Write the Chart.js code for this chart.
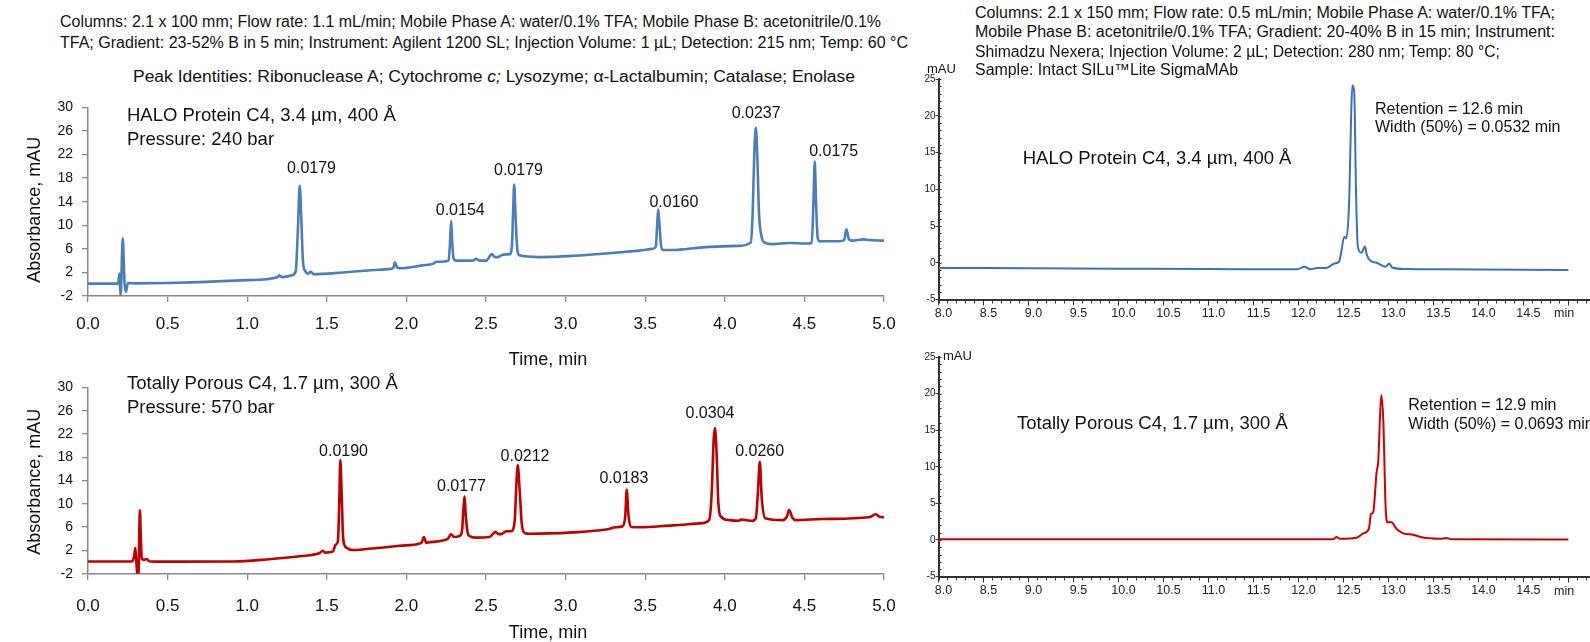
<!DOCTYPE html>
<html lang="en">
<head>
    <meta charset="UTF-8">
    <title>HALO Protein C4 vs Totally Porous C4</title>
    <script src="https://cdn.jsdelivr.net/npm/chart.js"></script>
    <style>
        body {
            margin: 0;
            width: 1590px;
            height: 642px;
            overflow: hidden;
            position: relative;
            background: #fff;
            color: #111;
            font-family: 'Liberation Sans', Arial, sans-serif;
        }
        canvas, .t {
            position: absolute;
        }
        .t {
            white-space: nowrap;
            line-height: 1.2;
            transform-origin: left center;
        }
        .hdr { font-size: 16px; }
        .ttl { font-size: 18.5px; }
        .ann { font-size: 16px; }
        .axt { font-size: 18px; width: 200px; text-align: center; }
        .unit { font-size: 12.5px; color: #222; }
    </style>
</head>
<body>
    <canvas id="c1" width="900" height="280" style="left:0;top:90px"></canvas>
    <canvas id="c2" width="900" height="272" style="left:0;top:370px"></canvas>
    <canvas id="c3" width="690" height="280" style="left:900px;top:60px"></canvas>
    <canvas id="c4" width="690" height="302" style="left:900px;top:340px"></canvas>

    <!-- left panel text -->
    <div class="t hdr" data-w="821" style="left:60px;top:11.7px">Columns: 2.1 x 100 mm; Flow rate: 1.1 mL/min; Mobile Phase A: water/0.1% TFA; Mobile Phase B: acetonitrile/0.1%</div>
    <div class="t hdr" data-w="848" style="left:60px;top:33px">TFA; Gradient: 23-52% B in 5 min; Instrument: Agilent 1200 SL; Injection Volume: 1 µL; Detection: 215 nm; Temp: 60 °C</div>
    <div class="t hdr" data-w="722" style="left:133px;top:67.4px">Peak Identities: Ribonuclease A; Cytochrome <i>c;</i> Lysozyme; α-Lactalbumin; Catalase; Enolase</div>
    <div class="t ttl" style="left:127px;top:103.9px">HALO Protein C4, 3.4 µm, 400 Å</div>
    <div class="t ttl" style="left:127px;top:127.9px">Pressure: 240 bar</div>
    <div class="t ttl" style="left:127px;top:372.2px">Totally Porous C4, 1.7 µm, 300 Å</div>
    <div class="t ttl" style="left:127px;top:395.6px">Pressure: 570 bar</div>
    <div class="t axt" style="left:448px;top:349px">Time, min</div>
    <div class="t axt" style="left:448px;top:622px">Time, min</div>
    <div class="t axt" style="left:-65px;top:199.2px;transform:rotate(-90deg);transform-origin:center">Absorbance, mAU</div>
    <div class="t axt" style="left:-65px;top:470.9px;transform:rotate(-90deg);transform-origin:center">Absorbance, mAU</div>

    <!-- right panel text -->
    <div class="t hdr" data-w="580" style="left:975px;top:3.4px">Columns: 2.1 x 150 mm; Flow rate: 0.5 mL/min; Mobile Phase A: water/0.1% TFA;</div>
    <div class="t hdr" data-w="580" style="left:975px;top:22.4px">Mobile Phase B: acetonitrile/0.1% TFA; Gradient: 20-40% B in 15 min; Instrument:</div>
    <div class="t hdr" data-w="525" style="left:975px;top:41.9px">Shimadzu Nexera; Injection Volume: 2 µL; Detection: 280 nm; Temp: 80 °C;</div>
    <div class="t hdr" data-w="263" style="left:975px;top:60.4px">Sample: Intact SILu™Lite SigmaMAb</div>
    <div class="t" style="left:927px;top:60.5px;font-size:13px">mAU</div>
    <div class="t" style="left:943px;top:348.2px;font-size:13px">mAU</div>
    <div class="t unit" style="left:1554px;top:305.5px">min</div>
    <div class="t unit" style="left:1554px;top:584.2px">min</div>
    <div class="t ttl" style="left:1022.7px;top:147.2px">HALO Protein C4, 3.4 µm, 400 Å</div>
    <div class="t ttl" style="left:1017px;top:412.2px">Totally Porous C4, 1.7 µm, 300 Å</div>
    <div class="t ann" style="left:1375px;top:98.7px">Retention = 12.6 min</div>
    <div class="t ann" style="left:1375px;top:117.1px">Width (50%) = 0.0532 min</div>
    <div class="t ann" style="left:1408.3px;top:394.7px">Retention = 12.9 min</div>
    <div class="t ann" style="left:1408.3px;top:413.7px">Width (50%) = 0.0693 min</div>

    <script>
        // ---- data ----
        // 5 min protein mix, HALO Protein C4 (blue)
        const haloFastTime = [0, 0.10, 0.19, 0.197, 0.205, 0.218, 0.230, 0.239, 0.250, 0.30, 0.50, 0.70, 1.00, 1.19, 1.20, 1.22, 1.28, 1.305, 1.318, 1.330, 1.340, 1.350, 1.365, 1.38, 1.40, 1.42, 1.60, 1.80, 1.90, 1.918, 1.928, 1.94, 1.96, 2.10, 2.17, 2.187, 2.21, 2.265, 2.274, 2.281, 2.288, 2.297, 2.313, 2.417, 2.438, 2.46, 2.501, 2.537, 2.555, 2.575, 2.606, 2.648, 2.663, 2.670, 2.677, 2.685, 2.695, 2.710, 2.836, 3.045, 3.254, 3.463, 3.547, 3.567, 3.575, 3.582, 3.590, 3.600, 3.612, 3.672, 3.881, 4.090, 4.163, 4.175, 4.185, 4.195, 4.205, 4.215, 4.230, 4.247, 4.299, 4.404, 4.509, 4.546, 4.557, 4.565, 4.573, 4.583, 4.595, 4.718, 4.750, 4.764, 4.780, 4.801, 4.874, 4.906, 5.0];
        const haloFastAbs = [0.1, 0.1, 0.15, 1.8, -2, 7.8, 0.0, -1.3, 0.2, 0.15, 0.2, 0.35, 0.7, 1.2, 1.5, 1.2, 1.5, 2.2, 9, 16.7, 11, 4, 2.2, 1.8, 2.1, 1.7, 2.0, 2.4, 2.6, 2.8, 3.7, 2.9, 2.7, 3.2, 3.5, 3.8, 3.8, 4.0, 7, 10.7, 7, 4.3, 4.0, 4.0, 4.3, 4.0, 4.0, 5.1, 4.6, 4.6, 5.0, 5.1, 6.5, 12, 16.9, 12, 6.5, 4.9, 4.6, 4.8, 5.2, 5.7, 6.0, 6.4, 10, 12.7, 10, 6.5, 5.8, 5.8, 6.3, 6.5, 7.1, 12, 22, 26.6, 21, 12, 8.2, 7.1, 6.8, 7.0, 6.9, 7.0, 14, 20.8, 14, 8, 7.3, 7.3, 7.5, 9.3, 7.6, 7.4, 7.6, 7.5, 7.4];
        const haloFastLabelTime = [1.404, 2.338, 2.704, 3.68, 4.197, 4.684];
        const haloFastLabelAbs = [19.6, 12.5, 19.2, 13.8, 29.0, 22.5];
        const haloFastLabels = ['0.0179', '0.0154', '0.0179', '0.0160', '0.0237', '0.0175'];

        // 5 min protein mix, totally porous C4 (red)
        const tpFastTime = [0, 0.274, 0.290, 0.297, 0.303, 0.309, 0.318, 0.322, 0.326, 0.332, 0.338, 0.350, 0.368, 0.39, 0.493, 0.912, 1.121, 1.33, 1.455, 1.476, 1.49, 1.508, 1.539, 1.556, 1.570, 1.578, 1.585, 1.593, 1.603, 1.622, 1.664, 1.748, 1.852, 1.957, 2.082, 2.097, 2.110, 2.125, 2.135, 2.229, 2.26, 2.281, 2.30, 2.334, 2.350, 2.358, 2.365, 2.373, 2.385, 2.397, 2.438, 2.522, 2.560, 2.578, 2.595, 2.627, 2.658, 2.680, 2.692, 2.700, 2.710, 2.725, 2.742, 2.773, 3.045, 3.254, 3.317, 3.359, 3.375, 3.384, 3.395, 3.411, 3.463, 3.672, 3.860, 3.902, 3.918, 3.930, 3.938, 3.948, 3.960, 3.975, 4.028, 4.090, 4.101, 4.174, 4.195, 4.208, 4.220, 4.232, 4.254, 4.362, 4.390, 4.404, 4.425, 4.446, 4.613, 4.906, 4.948, 4.970, 5.0];
        const tpFastAbs = [0.1, 0.1, 1.0, 2.4, 0.5, -2, -2, 5, 8.9, 4, 0.6, 0.4, 0.5, 0.1, 0.07, 0.1, 0.45, 1.0, 1.56, 1.95, 1.6, 1.67, 1.84, 3.0, 3.6, 10, 17.5, 12, 4, 2.5, 2.06, 2.23, 2.5, 2.79, 3.18, 3.4, 4.3, 3.3, 3.35, 3.7, 4.0, 4.75, 4.3, 4.47, 5.5, 9, 11.3, 8, 5, 4.47, 4.19, 4.3, 5.19, 4.8, 4.8, 5.3, 5.3, 7, 14, 16.6, 13, 6.5, 5.02, 4.85, 5.1, 5.58, 5.97, 6.14, 8, 12.4, 8, 6.03, 5.97, 6.3, 6.69, 7.25, 12, 21, 23.0, 19, 10, 7.81, 7.2, 7.1, 7.3, 7.08, 7.53, 12, 17.2, 11, 7.53, 7.2, 7.8, 8.93, 7.6, 7.2, 7.4, 7.7, 8.2, 7.8, 7.7];
        const tpFastLabelTime = [1.605, 2.346, 2.745, 3.366, 3.907, 4.219];
        const tpFastLabelAbs = [19.0, 13.0, 18.1, 14.4, 25.5, 19.0];
        const tpFastLabels = ['0.0190', '0.0177', '0.0212', '0.0183', '0.0304', '0.0260'];

        // SigmaMAb, HALO Protein C4 (blue)
        const haloMabTime = [8.0, 9.0, 10.0, 11.0, 11.98, 12.07, 12.13, 12.21, 12.31, 12.40, 12.45, 12.47, 12.51, 12.53, 12.56, 12.60, 12.62, 12.64, 12.66, 12.70, 12.74, 12.76, 12.80, 12.87, 12.97, 13.01, 13.04, 13.20, 13.57, 15.0];
        const haloMabAbs = [-0.7, -0.75, -0.8, -0.85, -0.9, -0.55, -0.9, -0.7, -0.7, -0.1, 0.14, 1.05, 3.55, 3.3, 7.2, 24.1, 23.2, 9.5, 2.2, 1.36, 2.2, 1.05, 0.27, 0.0, -0.55, -0.1, -0.64, -0.86, -0.9, -1.0];

        // SigmaMAb, totally porous C4 (red)
        const tpMabTime = [8.0, 10.0, 12.387, 12.424, 12.461, 12.646, 12.720, 12.783, 12.805, 12.831, 12.868, 12.887, 12.920, 12.943, 12.969, 12.991, 13.035, 13.091, 13.165, 13.276, 13.369, 13.572, 13.646, 13.70, 15.0];
        const tpMabAbs = [0.1, 0.1, 0.1, 0.4, 0.15, 0.3, 0.9, 1.5, 3.5, 3.8, 9.2, 10.8, 19.8, 16.3, 4.4, 2.4, 2.4, 1.5, 0.9, 0.7, 0.35, 0.15, 0.25, 0.1, 0.05];

        // ticks
        const leftXTicks = [0, 0.5, 1, 1.5, 2, 2.5, 3, 3.5, 4, 4.5, 5];
        const leftYTicks = [-2, 2, 6, 10, 14, 18, 22, 26, 30];
        const rightXTicks = [8, 8.5, 9, 9.5, 10, 10.5, 11, 11.5, 12, 12.5, 13, 13.5, 14, 14.5, 15];
        const rightYTicks = [-5, 0, 5, 10, 15, 20, 25];

        Chart.defaults.font.family = "'Liberation Sans', Arial, sans-serif";

        function zip(xs, ys) {
            return xs.map((x, i) => ({ x: x, y: ys[i] }));
        }

        function peakLabels(times, values, texts) {
            return {
                id: 'peakLabels',
                afterDatasetsDraw(chart) {
                    const { ctx, scales: { x, y } } = chart;
                    ctx.save();
                    ctx.font = "16px 'Liberation Sans', Arial, sans-serif";
                    ctx.fillStyle = '#111';
                    ctx.textAlign = 'center';
                    ctx.textBaseline = 'middle';
                    texts.forEach((t, i) => {
                        ctx.fillText(t, x.getPixelForValue(times[i]), y.getPixelForValue(values[i]));
                    });
                    ctx.restore();
                }
            };
        }

        // short ticks between the labelled ones on the instrument plots
        const minorTicks = {
            id: 'minorTicks',
            afterDraw(chart) {
                const { ctx, scales: { x, y }, chartArea } = chart;
                ctx.save();
                ctx.strokeStyle = '#333';
                ctx.lineWidth = 1;
                ctx.beginPath();
                for (let v = -5; v <= 25; v++) {
                    const py = Math.round(y.getPixelForValue(v)) + 0.5;
                    ctx.moveTo(chartArea.left, py);
                    ctx.lineTo(chartArea.left + 3, py);
                }
                for (let i = 80; i <= 152; i++) {
                    const px = Math.round(x.getPixelForValue(i / 10)) + 0.5;
                    ctx.moveTo(px, chartArea.bottom);
                    ctx.lineTo(px, chartArea.bottom + 4);
                }
                ctx.stroke();
                ctx.restore();
            }
        };

        // fixed axis box sizes so the plot areas land where the original has them
        function fixX(h) {
            return s => { s.height = h; s.paddingLeft = 0; s.paddingRight = 0; };
        }

        function leftChart(id, times, values, color, labels, padTop, xHeight, tickPad) {
            return new Chart(document.getElementById(id), {
                type: 'line',
                data: {
                    datasets: [{
                        data: zip(times, values),
                        borderColor: color,
                        borderWidth: 2.6,
                        pointRadius: 0,
                        cubicInterpolationMode: 'monotone',
                        fill: false
                    }]
                },
                options: {
                    responsive: false,
                    animation: false,
                    layout: { padding: { left: 0, top: padTop, right: 16, bottom: 0 } },
                    plugins: { legend: { display: false }, tooltip: { enabled: false } },
                    scales: {
                        x: {
                            type: 'linear', min: 0, max: 5,
                            afterBuildTicks: s => { s.ticks = leftXTicks.map(v => ({ value: v })); },
                            afterFit: fixX(xHeight),
                            grid: { drawOnChartArea: false, tickLength: 6, tickColor: '#888', lineWidth: 1.3 },
                            border: { color: '#888', width: 1.5 },
                            ticks: { font: { size: 17 }, color: '#111', padding: tickPad, autoSkip: false, maxRotation: 0, callback: v => v.toFixed(1) }
                        },
                        y: {
                            min: -2, max: 30,
                            afterBuildTicks: s => { s.ticks = leftYTicks.map(v => ({ value: v })); },
                            afterFit: s => { s.width = 88; },
                            grid: { drawOnChartArea: false, tickLength: 6, tickColor: '#888', lineWidth: 1.3 },
                            border: { color: '#888', width: 1.5 },
                            ticks: { font: { size: 14 }, color: '#111', padding: 9 }
                        }
                    }
                },
                plugins: [peakLabels(labels[0], labels[1], labels[2])]
            });
        }

        function rightChart(id, times, values, color, padTop, xHeight) {
            return new Chart(document.getElementById(id), {
                type: 'line',
                data: {
                    datasets: [{
                        data: zip(times, values),
                        borderColor: color,
                        borderWidth: 2,
                        pointRadius: 0,
                        cubicInterpolationMode: 'monotone',
                        fill: false
                    }]
                },
                options: {
                    responsive: false,
                    animation: false,
                    layout: { padding: { left: 0, top: padTop, right: 0, bottom: 0 } },
                    plugins: { legend: { display: false }, tooltip: { enabled: false } },
                    scales: {
                        x: {
                            type: 'linear', min: 8, max: 15.24,
                            afterBuildTicks: s => { s.ticks = rightXTicks.map(v => ({ value: v })); },
                            afterFit: fixX(xHeight),
                            grid: { drawOnChartArea: false, tickLength: 6, tickColor: '#333', lineWidth: 1 },
                            border: { color: '#333', width: 2 },
                            // the 15 min tick carries the "min" unit, placed as text above
                            ticks: { font: { size: 12.5 }, color: '#222', padding: 1, labelOffset: 5, autoSkip: false, maxRotation: 0, callback: v => v === 15 ? '' : v.toFixed(1) }
                        },
                        y: {
                            min: -5, max: 25,
                            afterBuildTicks: s => { s.ticks = rightYTicks.map(v => ({ value: v })); },
                            afterFit: s => { s.width = 38.5; },
                            grid: { drawOnChartArea: false, tickLength: 3, tickColor: '#333', lineWidth: 1 },
                            border: { color: '#333', width: 2 },
                            ticks: { font: { size: 10 }, color: '#222', padding: 0 }
                        }
                    }
                },
                plugins: [minorTicks]
            });
        }

        leftChart('c1', haloFastTime, haloFastAbs, '#4A7EBB', [haloFastLabelTime, haloFastLabelAbs, haloFastLabels], 15, 74, 12);
        leftChart('c2', tpFastTime, tpFastAbs, '#C00000', [tpFastLabelTime, tpFastLabelAbs, tpFastLabels], 12.3, 68.3, 16);
        rightChart('c3', haloMabTime, haloMabAbs, '#3D70B8', 19, 40.5);
        rightChart('c4', tpMabTime, tpMabAbs, '#CC0000', 17, 65.5);

        // squeeze the long caption lines to the widths they take in the original
        document.querySelectorAll('[data-w]').forEach(el => {
            const w = el.getBoundingClientRect().width;
            el.style.transform = 'scaleX(' + (+el.dataset.w / w) + ')';
        });
    </script>
</body>
</html>
